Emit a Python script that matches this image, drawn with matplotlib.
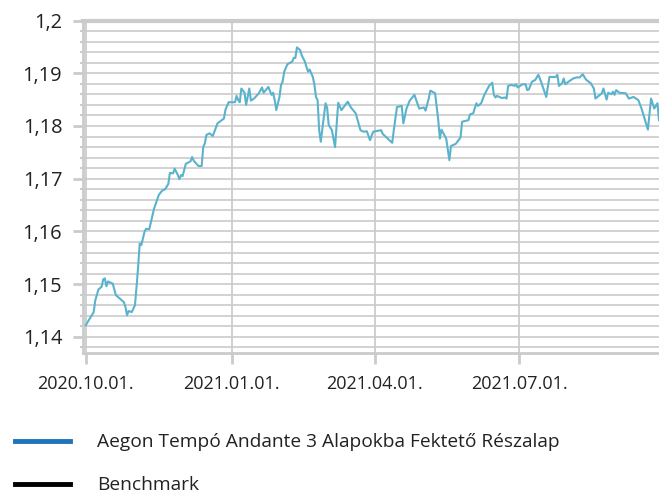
import numpy as np
import pandas as pd
import matplotlib
matplotlib.use('Agg')
import matplotlib.pyplot as plt
import matplotlib.dates as mdates
from matplotlib.ticker import MultipleLocator, FuncFormatter

plt.rcParams['font.family'] = ['Open Sans', 'DejaVu Sans']

# arfolyam adatok (leolvasva)
dates = [
    '2020-10-01', '2020-10-06', '2020-10-07', '2020-10-09', '2020-10-11', '2020-10-12',
    '2020-10-13', '2020-10-14', '2020-10-15', '2020-10-18', '2020-10-20', '2020-10-25',
    '2020-10-26', '2020-10-27', '2020-10-28', '2020-10-30', '2020-11-01', '2020-11-02',
    '2020-11-03', '2020-11-04', '2020-11-05', '2020-11-07', '2020-11-08', '2020-11-10',
    '2020-11-13', '2020-11-16', '2020-11-18', '2020-11-20', '2020-11-22', '2020-11-23',
    '2020-11-25', '2020-11-26', '2020-11-28', '2020-11-29', '2020-11-30', '2020-12-01',
    '2020-12-03', '2020-12-06', '2020-12-07', '2020-12-08', '2020-12-11', '2020-12-13',
    '2020-12-14', '2020-12-15', '2020-12-16', '2020-12-18', '2020-12-20', '2020-12-22',
    '2020-12-23', '2020-12-27', '2020-12-28', '2020-12-30', '2021-01-03', '2021-01-04',
    '2021-01-05', '2021-01-06', '2021-01-07', '2021-01-09', '2021-01-10', '2021-01-12',
    '2021-01-13', '2021-01-15', '2021-01-18', '2021-01-20', '2021-01-21', '2021-01-24',
    '2021-01-26', '2021-01-27', '2021-01-28', '2021-01-29', '2021-01-31', '2021-02-01',
    '2021-02-02', '2021-02-03', '2021-02-05', '2021-02-08', '2021-02-09', '2021-02-10',
    '2021-02-11', '2021-02-13', '2021-02-14', '2021-02-16', '2021-02-17', '2021-02-18',
    '2021-02-19', '2021-02-21', '2021-02-22', '2021-02-23', '2021-02-24', '2021-02-25',
    '2021-02-26', '2021-03-01', '2021-03-02', '2021-03-03', '2021-03-05', '2021-03-07',
    '2021-03-09', '2021-03-11', '2021-03-15', '2021-03-17', '2021-03-20', '2021-03-23',
    '2021-03-25', '2021-03-27', '2021-03-29', '2021-03-31', '2021-04-05', '2021-04-06',
    '2021-04-12', '2021-04-13', '2021-04-15', '2021-04-18', '2021-04-19', '2021-04-21',
    '2021-04-23', '2021-04-26', '2021-04-27', '2021-04-29', '2021-05-02', '2021-05-03',
    '2021-05-05', '2021-05-06', '2021-05-09', '2021-05-11', '2021-05-12', '2021-05-13',
    '2021-05-16', '2021-05-17', '2021-05-18', '2021-05-19', '2021-05-22', '2021-05-25',
    '2021-05-26', '2021-05-30', '2021-05-31', '2021-06-02', '2021-06-04', '2021-06-05',
    '2021-06-07', '2021-06-09', '2021-06-12', '2021-06-14', '2021-06-15', '2021-06-16',
    '2021-06-17', '2021-06-20', '2021-06-22', '2021-06-23', '2021-06-24', '2021-06-26',
    '2021-06-28', '2021-06-29', '2021-06-30', '2021-07-03', '2021-07-05', '2021-07-06',
    '2021-07-07', '2021-07-09', '2021-07-11', '2021-07-13', '2021-07-14', '2021-07-18',
    '2021-07-20', '2021-07-24', '2021-07-25', '2021-07-26', '2021-07-28', '2021-07-29',
    '2021-07-30', '2021-08-01', '2021-08-04', '2021-08-06', '2021-08-08', '2021-08-10',
    '2021-08-12', '2021-08-15', '2021-08-17', '2021-08-18', '2021-08-22', '2021-08-23',
    '2021-08-25', '2021-08-26', '2021-08-28', '2021-08-29', '2021-08-30', '2021-08-31',
    '2021-09-02', '2021-09-06', '2021-09-08', '2021-09-11', '2021-09-14', '2021-09-16',
    '2021-09-20', '2021-09-22', '2021-09-24', '2021-09-26', '2021-09-27',
]
fund = [
    1.1422, 1.1447, 1.1469, 1.1490, 1.1495, 1.1509,
    1.1511, 1.1496, 1.1505, 1.1501, 1.1479, 1.1466,
    1.1457, 1.1441, 1.1449, 1.1447, 1.1460, 1.1495,
    1.1533, 1.1577, 1.1574, 1.1599, 1.1605, 1.1604,
    1.1643, 1.1669, 1.1677, 1.1680, 1.1690, 1.1711,
    1.1710, 1.1719, 1.1707, 1.1699, 1.1707, 1.1705,
    1.1728, 1.1733, 1.1741, 1.1734, 1.1724, 1.1724,
    1.1760, 1.1767, 1.1783, 1.1786, 1.1781, 1.1797,
    1.1805, 1.1814, 1.1831, 1.1845, 1.1845, 1.1857,
    1.1849, 1.1845, 1.1871, 1.1863, 1.1840, 1.1871,
    1.1848, 1.1852, 1.1862, 1.1873, 1.1863, 1.1874,
    1.1859, 1.1863, 1.1849, 1.1830, 1.1855, 1.1878,
    1.1884, 1.1903, 1.1917, 1.1922, 1.1929, 1.1929,
    1.1949, 1.1944, 1.1934, 1.1922, 1.1912, 1.1903,
    1.1907, 1.1893, 1.1878, 1.1855, 1.1849, 1.1792,
    1.1770, 1.1843, 1.1835, 1.1802, 1.1792, 1.1760,
    1.1844, 1.1830, 1.1846, 1.1835, 1.1824, 1.1792,
    1.1789, 1.1790, 1.1773, 1.1789, 1.1792, 1.1785,
    1.1768, 1.1792, 1.1836, 1.1838, 1.1805, 1.1833,
    1.1848, 1.1859, 1.1850, 1.1833, 1.1835, 1.1829,
    1.1852, 1.1867, 1.1862, 1.1811, 1.1776, 1.1793,
    1.1776, 1.1755, 1.1735, 1.1762, 1.1766, 1.1778,
    1.1808, 1.1811, 1.1822, 1.1824, 1.1843, 1.1838,
    1.1843, 1.1859, 1.1876, 1.1882, 1.1859, 1.1854,
    1.1857, 1.1853, 1.1854, 1.1852, 1.1876, 1.1878,
    1.1876, 1.1879, 1.1873, 1.1879, 1.1879, 1.1868,
    1.1869, 1.1884, 1.1887, 1.1897, 1.1890, 1.1855,
    1.1893, 1.1893, 1.1897, 1.1876, 1.1881, 1.1890,
    1.1879, 1.1884, 1.1890, 1.1892, 1.1892, 1.1898,
    1.1888, 1.1881, 1.1871, 1.1852, 1.1862, 1.1871,
    1.1850, 1.1863, 1.1860, 1.1865, 1.1859, 1.1868,
    1.1863, 1.1862, 1.1852, 1.1855, 1.1849, 1.1833,
    1.1793, 1.1852, 1.1833, 1.1843, 1.1811,
]
x_ticks = ['2020-10-01', '2021-01-01', '2021-04-01', '2021-07-01']
fund_label = 'Aegon Tempó Andante 3 Alapokba Fektető Részalap'
bench_label = 'Benchmark'

grid_c = '#cbcbcb'

fig = plt.figure(figsize=(6.59, 4.94), dpi=100)
ax = fig.add_axes([0.126, 0.285, 0.874, 0.6735])

x = pd.to_datetime(dates)
ax.plot(x, fund, color='#5ab3cc', lw=1.5, label=fund_label, zorder=3)
# benchmark: nincs adat a grafikonon, csak jelmagyarazat
ax.plot([], [], color='black', lw=3, label=bench_label)

ax.set_ylim(1.1369, 1.2)
ax.set_xlim(pd.Timestamp('2020-10-01') - pd.Timedelta(days=1.7),
            pd.Timestamp('2021-09-27'))

ax.yaxis.set_major_locator(MultipleLocator(0.01))
ax.yaxis.set_minor_locator(MultipleLocator(0.002))
ax.yaxis.set_major_formatter(FuncFormatter(lambda v, p: ('%g' % round(v, 3)).replace('.', ',')))

ax.set_xticks(pd.to_datetime(x_ticks))
ax.xaxis.set_major_formatter(mdates.DateFormatter('%Y.%m.%d.'))

ax.grid(True, which='both', axis='y', color=grid_c, lw=1.2)
ax.grid(True, which='major', axis='x', color=grid_c, lw=1.3)
ax.set_axisbelow(True)

for s in ['left', 'bottom', 'top']:
    ax.spines[s].set_color(grid_c)
ax.spines['left'].set_linewidth(2)
ax.spines['bottom'].set_linewidth(2)
ax.spines['top'].set_linewidth(3)
ax.spines['right'].set_visible(False)

ax.tick_params(axis='y', which='major', length=7, width=2, color=grid_c,
               labelsize=14.4, labelcolor='#222222', pad=8)
ax.tick_params(axis='y', which='minor', length=2, width=1.5, color=grid_c)
ax.tick_params(axis='x', which='major', length=8, width=2, color=grid_c,
               labelsize=13, labelcolor='#222222', pad=8)

leg = fig.legend(loc='upper left', bbox_to_anchor=(0.011, 0.138), frameon=False,
                 fontsize=13.8, handlelength=2.85, handletextpad=1.45,
                 labelspacing=1.3, borderaxespad=0)
for h, c in zip(leg.get_lines(), ['#1f73b9', 'black']):
    h.set_color(c)
    h.set_linewidth(3.5)
for t in leg.get_texts():
    t.set_color('#222222')

fig.savefig('out.png', dpi=100)
